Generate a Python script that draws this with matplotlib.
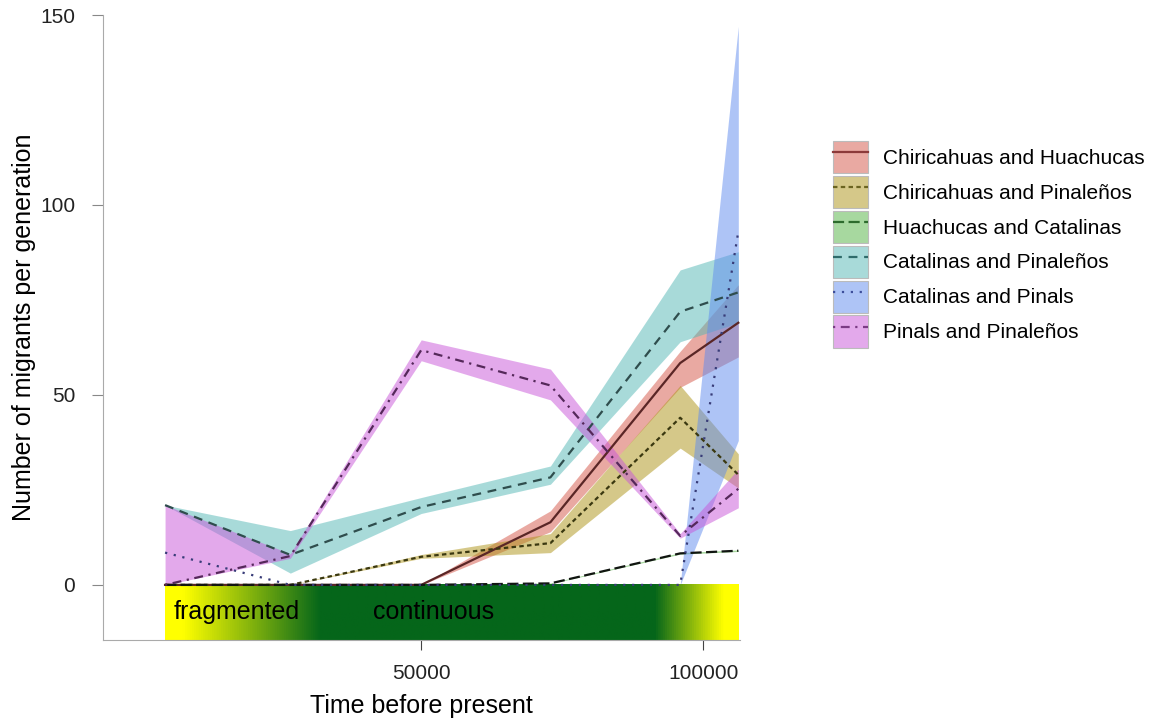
import numpy as np
import matplotlib
matplotlib.use('Agg')
import matplotlib.pyplot as plt
from matplotlib.colors import LinearSegmentedColormap, to_rgba
from matplotlib.patches import Patch
from matplotlib.lines import Line2D

plt.rcParams['font.family'] = ['Liberation Sans', 'DejaVu Sans']

# time points (years before present)
time = [4600, 26800, 50000, 72900, 95900, 106200]

pairs = ['Chiricahuas and Huachucas', 'Chiricahuas and Pinaleños',
         'Huachucas and Catalinas', 'Catalinas and Pinaleños',
         'Catalinas and Pinals', 'Pinals and Pinaleños']

# migrants per generation: median and lower/upper bounds
chi_hua = [0, 0, 0, 16.5, 58.4, 69]
chi_hua_lo = [0, 0, 0, 14, 52, 60]
chi_hua_hi = [0, 0, 0, 19.5, 61.5, 79]

chi_pin = [0, 0, 7.4, 11, 44, 29]
chi_pin_lo = [0, 0, 7, 8.5, 36, 25.5]
chi_pin_hi = [0, 0, 8, 13.5, 52.5, 34.5]

hua_cat = [0, 0, 0, 0.4, 8.3, 9]
hua_cat_lo = [0, 0, 0, 0.3, 8.1, 8.8]
hua_cat_hi = [0, 0, 0, 0.5, 8.5, 9.2]

cat_pin = [21, 7.9, 20.5, 28.3, 71.9, 77]
cat_pin_lo = [21, 3.1, 18.8, 26.5, 64, 69]
cat_pin_hi = [21, 14.3, 23, 31.3, 82.9, 87.7]

cat_pls = [8.5, 0, 0, 0, 0, 93]
cat_pls_lo = [8.5, 0, 0, 0, 0, 38]
cat_pls_hi = [8.5, 0, 0, 0, 0, 147]

pls_pin = [0, 7.6, 61.8, 52.5, 12.9, 25.3]
pls_pin_lo = [0, 7, 59, 48.7, 12.3, 20.3]
pls_pin_hi = [21, 8.2, 64.5, 56.8, 13.5, 30.5]

mid = [chi_hua, chi_pin, hua_cat, cat_pin, cat_pls, pls_pin]
low = [chi_hua_lo, chi_pin_lo, hua_cat_lo, cat_pin_lo, cat_pls_lo, pls_pin_lo]
high = [chi_hua_hi, chi_pin_hi, hua_cat_hi, cat_pin_hi, cat_pls_hi, pls_pin_hi]

fills = ['#D55547', '#AD9315', '#51B341', '#53B7B5', '#5F8BEF', '#C955D9']
lines = ['#5a2626', '#3a3810', '#111511', '#2f4d4d', '#383c78', '#55285a']
leg_lines = ['#8b3a3a', '#6b6420', '#2d6b2d', '#2f6b6b', '#3d4e9b', '#7b3b85']
styles = ['-', (0, (2, 1.5)), (0, (5, 2)), (0, (4, 3)), (0, (1, 3)), (0, (1, 2.5, 4, 2.5))]

fig = plt.figure(figsize=(11.53, 7.21), dpi=100)
ax = fig.add_axes([103/1153, 1-640/721, 637/1153, 625/721])

# habitat bar below zero
hab = LinearSegmentedColormap.from_list('hab', [(0, '#ffff00'), (0.03, '#ffff00'),
                                                (0.27, '#05661a'), (0.855, '#05661a'),
                                                (0.975, '#ffff00'), (1, '#ffff00')])
ymin = -14.5
ax.imshow(np.linspace(0, 1, 512)[None, :], cmap=hab, aspect='auto',
          extent=[time[0], time[-1], ymin, 0], zorder=1)
ax.text(time[0] + 1500, ymin/2, 'fragmented', fontsize=18, va='center', zorder=2)
ax.text(41500, ymin/2, 'continuous', fontsize=18, va='center', zorder=2)

for i in range(6):
    ax.fill_between(time, low[i], high[i], color=fills[i], alpha=0.5, lw=0, zorder=3)
for i in range(6):
    ax.plot(time, mid[i], color=lines[i], ls=styles[i], lw=1.6, zorder=4)

ax.set_xlim(-6400, 106500)
ax.set_ylim(ymin, 150)
ax.set_yticks([0, 50, 100, 150])
ax.set_xticks([50000, 100000])

for s in ['top', 'right']:
    ax.spines[s].set_visible(False)
ax.spines['left'].set_color('#aaaaaa')
ax.spines['bottom'].set_color('#aaaaaa')

ax.tick_params(axis='y', length=8, color='#888888', pad=12, labelsize=15, labelcolor='#222222')
ax.tick_params(axis='x', length=7, color='#444444', pad=10, labelsize=15, labelcolor='#222222')
ax.set_xlabel('Time before present', fontsize=18, labelpad=8)
ax.set_ylabel('Number of migrants per generation', fontsize=18, labelpad=3)

handles = []
for i in range(6):
    p = Patch(facecolor=to_rgba(fills[i], 0.5), edgecolor='#bbbbbb', lw=0.8)
    l = Line2D([], [], color=leg_lines[i], ls=styles[i], lw=1.6)
    handles.append((p, l))
fig.legend(handles, pairs, loc='upper left', bbox_to_anchor=(833/1153, 1-141/721),
           frameon=False, fontsize=15, handlelength=1.7, handleheight=2.0,
           labelspacing=0.13, handletextpad=0.7, borderpad=0, borderaxespad=0)

fig.savefig('out.png', dpi=100)
